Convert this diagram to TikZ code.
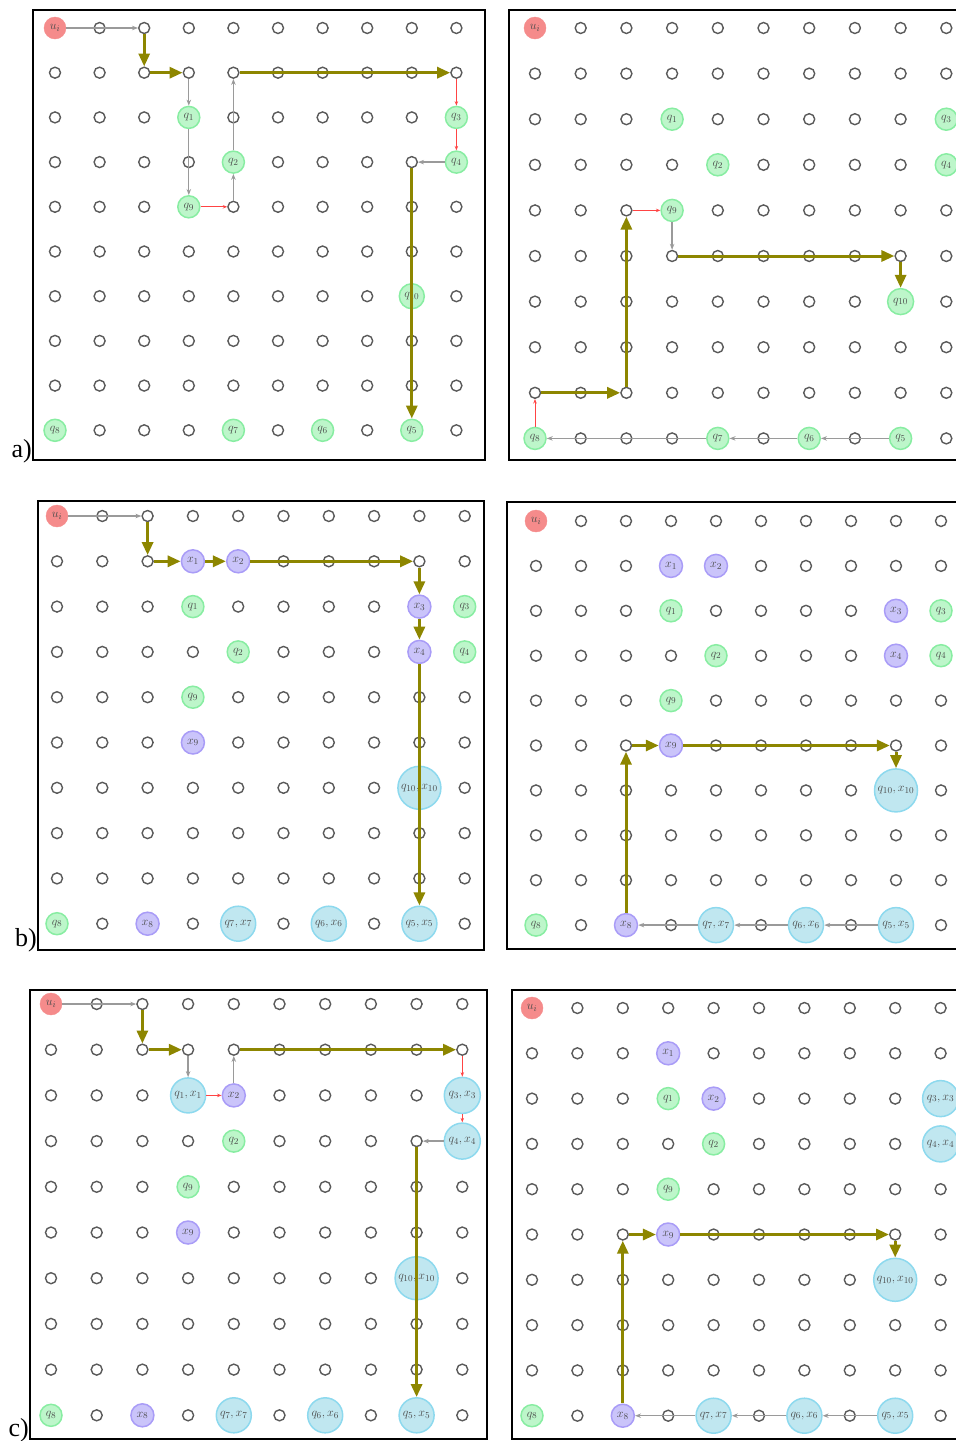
\documentclass[tikz,border=0pt]{standalone}
\usepackage{amsmath,amssymb}
\usepackage{fontspec}
\setmainfont{Liberation Serif}
\usepackage{xcolor}
\usetikzlibrary{arrows.meta}

\definecolor{dotgray}{HTML}{5A5A5A}
\definecolor{qfill}{HTML}{BDF6CA}
\definecolor{qline}{HTML}{88EDA2}
\definecolor{ufill}{HTML}{F58B8B}
\definecolor{xfill}{HTML}{CAC4FA}
\definecolor{xline}{HTML}{A99CF7}
\definecolor{qxfill}{HTML}{C0E7F0}
\definecolor{qxline}{HTML}{8DD9EE}
\definecolor{arrgray}{HTML}{9A9A9A}
\definecolor{arrred}{HTML}{FF4444}

\tikzset{
gdot/.style={circle,draw=dotgray,fill=white,line width=1.4pt,minimum size=11pt,inner sep=0pt},
lab/.style={circle,inner sep=0pt,font=\fontsize{13}{15}\selectfont,text=black!70},
unode/.style={lab,fill=ufill,draw=ufill,minimum size=22pt},
qnode/.style={lab,fill=qfill,draw=qline,line width=1.5pt,minimum size=22pt},
xnode/.style={lab,fill=xfill,draw=xline,line width=1.5pt,minimum size=23pt},
qxnode/.style={lab,fill=qxfill,draw=qxline,line width=1.5pt,minimum size=35pt},
walk/.style={draw=olive,line width=3pt,-{Triangle[length=13pt,width=11pt]}},
hop/.style={draw=arrgray,line width=1.3pt,-{Stealth[length=6pt,width=4.5pt]}},
redhop/.style={draw=arrred,line width=0.9pt,-{Stealth[length=4.5pt,width=3.5pt]}},
panelframe/.style={draw=black,line width=2pt},
paneltag/.style={font=\fontsize{26}{28}\selectfont,anchor=base east,inner sep=0pt}
}

\newcommand{\dotgrid}[1]{\foreach \i in {0,...,9}{\foreach \j in {0,...,9}{\node[gdot] (#1-\i-\j) at (\i,\j) {};}}}

\begin{document}
\begin{tikzpicture}[x=1pt,y=-1pt]
\useasboundingbox (0,0) rectangle (956,1441);
\clip (0,0) rectangle (956,1441);

\draw[panelframe] (33,10) rectangle (485,460);
\draw[panelframe] (509,10) rectangle (990,460);
\draw[panelframe] (38,501) rectangle (484,950);
\draw[panelframe] (507,502) rectangle (990,949);
\draw[panelframe] (30,990) rectangle (487,1439);
\draw[panelframe] (512,990) rectangle (990,1439);

% a) left
\begin{scope}[shift={(55,28)},x=44.6pt,y=-44.7pt]
\dotgrid{aL}
\node[unode] (aL-u) at (0,0) {$u_i$};
\node[qnode] (aL-q1) at (3,2) {$q_1$};
\node[qnode] (aL-q2) at (4,3) {$q_2$};
\node[qnode] (aL-q3) at (9,2) {$q_3$};
\node[qnode] (aL-q4) at (9,3) {$q_4$};
\node[qnode] (aL-q9) at (3,4) {$q_9$};
\node[qnode,minimum size=25pt] (aL-q10) at (8,6) {$q_{10}$};
\node[qnode] (aL-q8) at (0,9) {$q_8$};
\node[qnode] (aL-q7) at (4,9) {$q_7$};
\node[qnode] (aL-q6) at (6,9) {$q_6$};
\node[qnode] (aL-q5) at (8,9) {$q_5$};
\draw[hop] (aL-u) -- (aL-2-0);
\draw[walk] (aL-2-0) -- (aL-2-1);
\draw[walk] (aL-2-1) -- (aL-3-1);
\draw[hop] (aL-3-1) -- (aL-q1);
\draw[hop] (aL-q1) -- (aL-q9);
\draw[redhop] (aL-q9) -- (aL-4-4);
\draw[hop] (aL-4-4) -- (aL-q2);
\draw[hop] (aL-q2) -- (aL-4-1);
\draw[walk] (aL-4-1) -- (aL-9-1);
\draw[redhop] (aL-9-1) -- (aL-q3);
\draw[redhop] (aL-q3) -- (aL-q4);
\draw[hop] (aL-q4) -- (aL-8-3);
\draw[walk] (aL-8-3) -- (aL-q5);
\end{scope}

% a) right
\begin{scope}[shift={(535,28)},x=45.7pt,y=-45.6pt]
\dotgrid{aR}
\node[unode] (aR-u) at (0,0) {$u_i$};
\node[qnode] (aR-q1) at (3,2) {$q_1$};
\node[qnode] (aR-q2) at (4,3) {$q_2$};
\node[qnode] (aR-q3) at (9,2) {$q_3$};
\node[qnode] (aR-q4) at (9,3) {$q_4$};
\node[qnode] (aR-q9) at (3,4) {$q_9$};
\node[qnode,minimum size=26pt] (aR-q10) at (8,6) {$q_{10}$};
\node[qnode] (aR-q8) at (0,9) {$q_8$};
\node[qnode] (aR-q7) at (4,9) {$q_7$};
\node[qnode] (aR-q6) at (6,9) {$q_6$};
\node[qnode] (aR-q5) at (8,9) {$q_5$};
\draw[hop] (aR-q5) -- (aR-q6);
\draw[hop] (aR-q6) -- (aR-q7);
\draw[hop] (aR-q7) -- (aR-q8);
\draw[redhop] (aR-q8) -- (aR-0-8);
\draw[walk] (aR-0-8) -- (aR-2-8);
\draw[walk] (aR-2-8) -- (aR-2-4);
\draw[redhop] (aR-2-4) -- (aR-q9);
\draw[hop] (aR-q9) -- (aR-3-5);
\draw[walk] (aR-3-5) -- (aR-8-5);
\draw[walk] (aR-8-5) -- (aR-q10);
\end{scope}

% b) left
\begin{scope}[shift={(57,516)},x=45.3pt,y=-45.3pt]
\dotgrid{bL}
\node[unode] (bL-u) at (0,0) {$u_i$};
\node[xnode] (bL-x1) at (3,1) {$x_1$};
\node[xnode] (bL-x2) at (4,1) {$x_2$};
\node[xnode] (bL-x3) at (8,2) {$x_3$};
\node[xnode] (bL-x4) at (8,3) {$x_4$};
\node[qnode] (bL-q1) at (3,2) {$q_1$};
\node[qnode] (bL-q3) at (9,2) {$q_3$};
\node[qnode] (bL-q2) at (4,3) {$q_2$};
\node[qnode] (bL-q4) at (9,3) {$q_4$};
\node[qnode] (bL-q9) at (3,4) {$q_9$};
\node[xnode] (bL-x9) at (3,5) {$x_9$};
\node[qxnode,minimum size=43pt] (bL-qx10) at (8,6) {$q_{10},x_{10}$};
\node[qnode] (bL-q8) at (0,9) {$q_8$};
\node[xnode] (bL-x8) at (2,9) {$x_8$};
\node[qxnode] (bL-qx7) at (4,9) {$q_7,x_7$};
\node[qxnode] (bL-qx6) at (6,9) {$q_6,x_6$};
\node[qxnode] (bL-qx5) at (8,9) {$q_5,x_5$};
\draw[hop] (bL-u) -- (bL-2-0);
\draw[walk] (bL-2-0) -- (bL-2-1);
\draw[walk] (bL-2-1) -- (bL-x1);
\draw[walk] (bL-x1) -- (bL-x2);
\draw[walk] (bL-x2) -- (bL-8-1);
\draw[walk] (bL-8-1) -- (bL-x3);
\draw[walk] (bL-x3) -- (bL-x4);
\draw[walk] (bL-x4) -- (bL-qx5);
\end{scope}

% b) right
\begin{scope}[shift={(536,521)},x=45pt,y=-44.9pt]
\dotgrid{bR}
\node[unode] (bR-u) at (0,0) {$u_i$};
\node[xnode] (bR-x1) at (3,1) {$x_1$};
\node[xnode] (bR-x2) at (4,1) {$x_2$};
\node[xnode] (bR-x3) at (8,2) {$x_3$};
\node[xnode] (bR-x4) at (8,3) {$x_4$};
\node[qnode] (bR-q1) at (3,2) {$q_1$};
\node[qnode] (bR-q3) at (9,2) {$q_3$};
\node[qnode] (bR-q2) at (4,3) {$q_2$};
\node[qnode] (bR-q4) at (9,3) {$q_4$};
\node[qnode] (bR-q9) at (3,4) {$q_9$};
\node[xnode] (bR-x9) at (3,5) {$x_9$};
\node[qxnode,minimum size=43pt] (bR-qx10) at (8,6) {$q_{10},x_{10}$};
\node[qnode] (bR-q8) at (0,9) {$q_8$};
\node[xnode] (bR-x8) at (2,9) {$x_8$};
\node[qxnode] (bR-qx7) at (4,9) {$q_7,x_7$};
\node[qxnode] (bR-qx6) at (6,9) {$q_6,x_6$};
\node[qxnode] (bR-qx5) at (8,9) {$q_5,x_5$};
\draw[hop] (bR-qx5) -- (bR-qx6);
\draw[hop] (bR-qx6) -- (bR-qx7);
\draw[hop] (bR-qx7) -- (bR-x8);
\draw[walk] (bR-x8) -- (bR-2-5);
\draw[walk] (bR-2-5) -- (bR-x9);
\draw[walk] (bR-x9) -- (bR-8-5);
\draw[walk] (bR-8-5) -- (bR-qx10);
\end{scope}

% c) left
\begin{scope}[shift={(51,1004)},x=45.7pt,y=-45.7pt]
\dotgrid{cL}
\node[unode] (cL-u) at (0,0) {$u_i$};
\node[qxnode] (cL-qx1) at (3,2) {$q_1,x_1$};
\node[xnode] (cL-x2) at (4,2) {$x_2$};
\node[qxnode,minimum size=36pt] (cL-qx3) at (9,2) {$q_3,x_3$};
\node[qxnode,minimum size=36pt] (cL-qx4) at (9,3) {$q_4,x_4$};
\node[qnode] (cL-q2) at (4,3) {$q_2$};
\node[qnode] (cL-q9) at (3,4) {$q_9$};
\node[xnode] (cL-x9) at (3,5) {$x_9$};
\node[qxnode,minimum size=43pt] (cL-qx10) at (8,6) {$q_{10},x_{10}$};
\node[qnode] (cL-q8) at (0,9) {$q_8$};
\node[xnode] (cL-x8) at (2,9) {$x_8$};
\node[qxnode] (cL-qx7) at (4,9) {$q_7,x_7$};
\node[qxnode] (cL-qx6) at (6,9) {$q_6,x_6$};
\node[qxnode] (cL-qx5) at (8,9) {$q_5,x_5$};
\draw[hop] (cL-u) -- (cL-2-0);
\draw[walk] (cL-2-0) -- (cL-2-1);
\draw[walk] (cL-2-1) -- (cL-3-1);
\draw[hop] (cL-3-1) -- (cL-qx1);
\draw[redhop] (cL-qx1) -- (cL-x2);
\draw[hop] (cL-x2) -- (cL-4-1);
\draw[walk] (cL-4-1) -- (cL-9-1);
\draw[redhop] (cL-9-1) -- (cL-qx3);
\draw[redhop] (cL-qx3) -- (cL-qx4);
\draw[hop] (cL-qx4) -- (cL-8-3);
\draw[walk] (cL-8-3) -- (cL-qx5);
\end{scope}

% c) right
\begin{scope}[shift={(532,1008)},x=45.4pt,y=-45.3pt]
\dotgrid{cR}
\node[unode] (cR-u) at (0,0) {$u_i$};
\node[xnode] (cR-x1) at (3,1) {$x_1$};
\node[qnode] (cR-q1) at (3,2) {$q_1$};
\node[xnode] (cR-x2) at (4,2) {$x_2$};
\node[qnode] (cR-q2) at (4,3) {$q_2$};
\node[qxnode,minimum size=36pt] (cR-qx3) at (9,2) {$q_3,x_3$};
\node[qxnode,minimum size=36pt] (cR-qx4) at (9,3) {$q_4,x_4$};
\node[qnode] (cR-q9) at (3,4) {$q_9$};
\node[xnode] (cR-x9) at (3,5) {$x_9$};
\node[qxnode,minimum size=43pt] (cR-qx10) at (8,6) {$q_{10},x_{10}$};
\node[qnode] (cR-q8) at (0,9) {$q_8$};
\node[xnode] (cR-x8) at (2,9) {$x_8$};
\node[qxnode] (cR-qx7) at (4,9) {$q_7,x_7$};
\node[qxnode] (cR-qx6) at (6,9) {$q_6,x_6$};
\node[qxnode] (cR-qx5) at (8,9) {$q_5,x_5$};
\draw[hop] (cR-qx5) -- (cR-qx6);
\draw[hop] (cR-qx6) -- (cR-qx7);
\draw[hop] (cR-qx7) -- (cR-x8);
\draw[walk] (cR-x8) -- (cR-2-5);
\draw[walk] (cR-2-5) -- (cR-x9);
\draw[walk] (cR-x9) -- (cR-8-5);
\draw[walk] (cR-8-5) -- (cR-qx10);
\end{scope}

\node[paneltag] (taga) at (32,457) {a)};
\node[paneltag] (tagb) at (37,946) {b)};
\node[paneltag] (tagc) at (29,1436) {c)};
\end{tikzpicture}
\end{document}
